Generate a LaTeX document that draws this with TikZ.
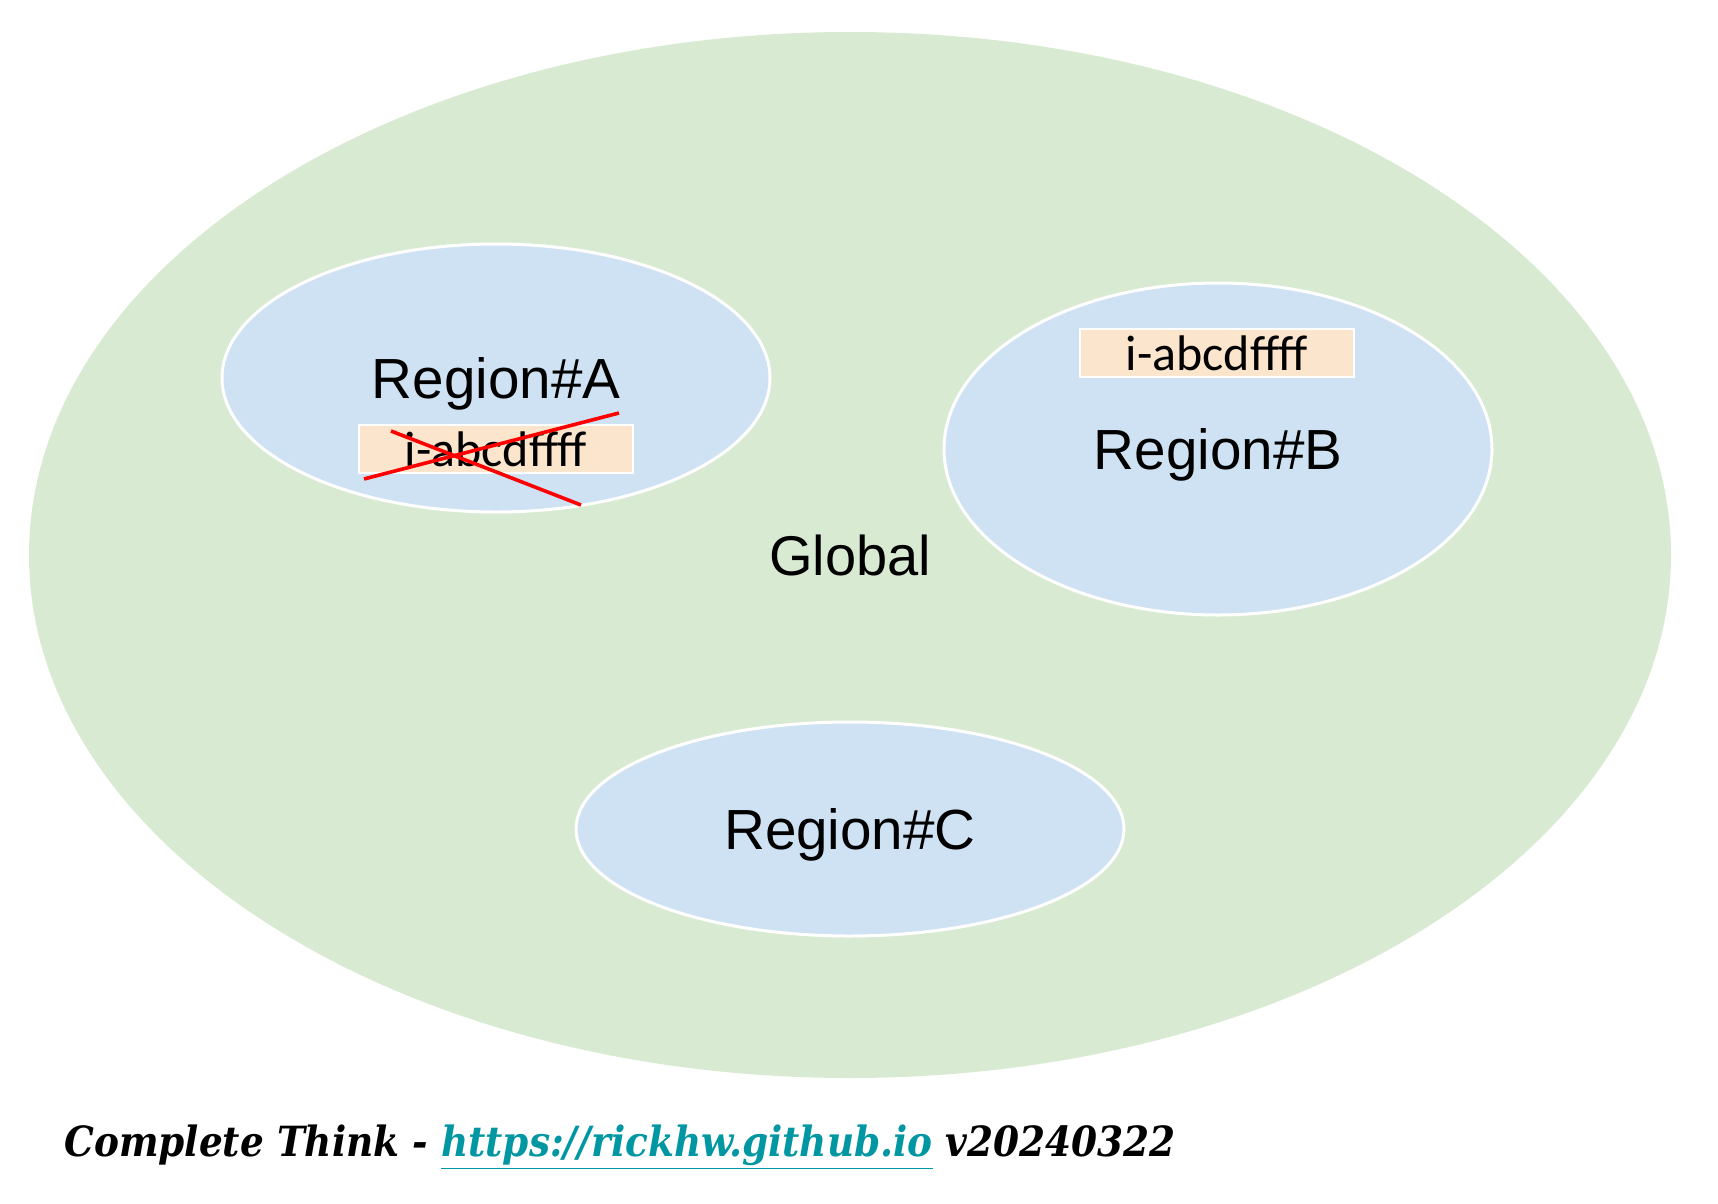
\documentclass[tikz,border=0pt]{standalone}
\usepackage{fontspec}
\setmainfont{Liberation Sans}
\newfontfamily\boxfont{Carlito}
\newfontfamily\footfont{DejaVu Serif Condensed}
\usepackage{tikz}
\usetikzlibrary{shapes.geometric, positioning}
\definecolor{globalgreen}{RGB}{217, 234, 211}
\definecolor{regionblue}{RGB}{207, 226, 243}
\definecolor{idorange}{RGB}{252, 229, 205}
\definecolor{linkteal}{RGB}{0, 150, 162}

\begin{document}
\begin{tikzpicture}[
        x=0.5pt, y=-0.5pt,
        globe/.style={ellipse, fill=globalgreen, inner sep=0pt, font=\fontsize{28}{32}\selectfont},
        region/.style={ellipse, draw=white, line width=1.5pt, fill=regionblue, inner sep=0pt,
            text depth=0pt, minimum width=274pt, font=\fontsize{28.3}{32}\selectfont},
        idbox/.style={draw=white, line width=1.2pt, fill=idorange, inner sep=0pt,
            minimum width=137pt, minimum height=24pt, font=\boxfont\fontsize{25}{28}\selectfont},
        cross/.style={red, line width=1.8pt},
    ]
        \useasboundingbox (0,0) rectangle (1718,1204);

        % Outer ellipse: the global scope
        \node[globe, minimum width=821pt, minimum height=523pt] (global) at (850,555) {Global};

        % Regions inside it
        \node[region, minimum height=134pt] (regA) at (496,378) {Region\#A};
        \node[region, minimum height=166pt] (regB) at (1218,449) {Region\#B};
        \node[region, minimum height=107pt] (regC) at (850,829) {Region\#C};

        % Instance ids: moved from A to B
        \node[idbox] (idA) at (496,449) {i-abcdffff};
        \node[idbox] (idB) at (1217,353) {i-abcdffff};

        % Red cross over the old id
        \coordinate (crossA1) at (364,479);
        \coordinate (crossA2) at (619,413);
        \coordinate (crossB1) at (391,431);
        \coordinate (crossB2) at (581,505);
        \draw[cross] (crossA1) -- (crossA2);
        \draw[cross] (crossB1) -- (crossB2);

        % Footer
        \node[anchor=base west, inner sep=0pt, font=\footfont\bfseries\itshape\fontsize{20.8}{24}\selectfont] (footer) at (64,1156)
            {Complete Think - {\color{linkteal}\underline{https://rickhw.github.io}} v20240322};
\end{tikzpicture}
\end{document}
